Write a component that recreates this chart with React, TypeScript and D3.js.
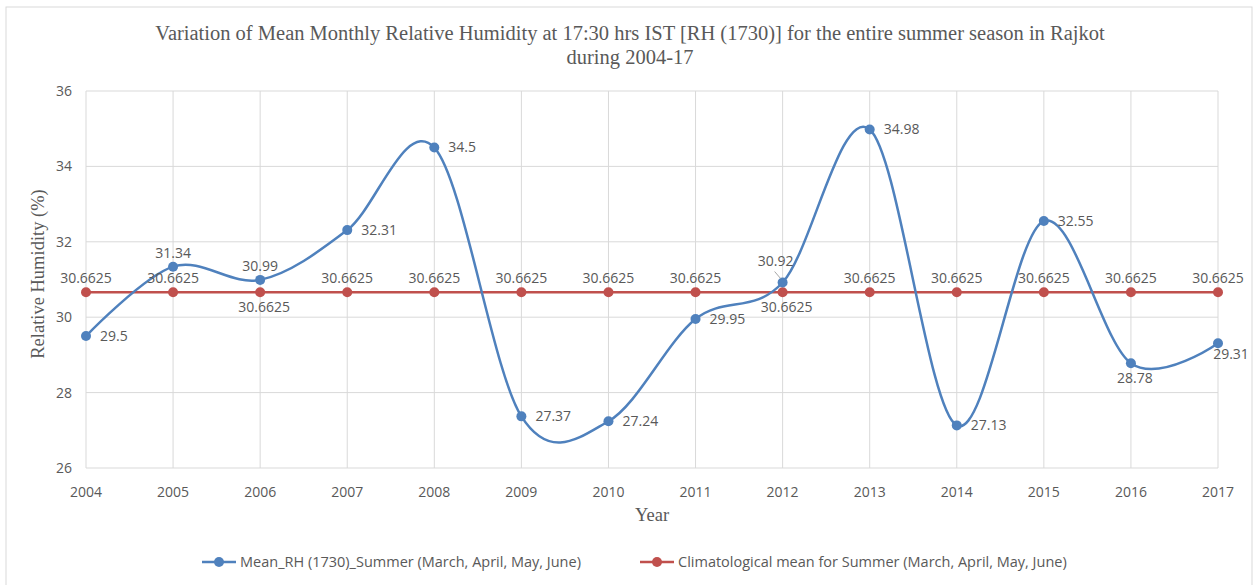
import React, {useEffect, useRef} from 'react';
import * as d3 from 'd3';

const years = [2004, 2005, 2006, 2007, 2008, 2009, 2010, 2011, 2012, 2013, 2014, 2015, 2016, 2017];
const meanRH = [29.5, 31.34, 30.99, 32.31, 34.5, 27.37, 27.24, 29.95, 30.92, 34.98, 27.13, 32.55, 28.78, 29.31];
const climMean = [30.6625, 30.6625, 30.6625, 30.6625, 30.6625, 30.6625, 30.6625, 30.6625, 30.6625, 30.6625, 30.6625, 30.6625, 30.6625, 30.6625];
const yTicks = [26, 28, 30, 32, 34, 36];
// label placement per point, as Excel put them
const meanLabelPos = ['r', 't', 't', 'r', 'r', 'r', 'r', 'r', 'tl', 'r', 'r', 'r', 'b', 'br'];
const climLabelPos = ['t', 't', 'b', 't', 't', 't', 't', 't', 'b', 't', 't', 't', 't', 't'];

const seriesNames = [
    'Mean_RH (1730)_Summer (March, April, May, June)',
    'Climatological mean for Summer (March, April, May, June)',
];
const titleLines = [
    'Variation of Mean Monthly Relative Humidity at 17:30 hrs IST [RH (1730)] for the entire summer season in Rajkot',
    'during 2004-17',
];

const W = 1258;
const H = 585;
const BLUE = '#4f81bd';
const RED = '#c0504d';
const GRID = '#d9d9d9';
const TXT = '#595959';
const SANS = '"Open Sans", "Noto Sans", sans-serif';
const SERIF = '"Liberation Serif", "Times New Roman", serif';
const FS = 14;

const App = () => {
    const svgRef = useRef<SVGSVGElement>(null);

    useEffect(() => {
        const svg = d3.select(svgRef.current);
        svg.selectAll('*').remove();

        const margin = {top: 91, right: 40, bottom: 117, left: 86};

        svg.append('rect')
            .attr('x', 6).attr('y', 7)
            .attr('width', 1246).attr('height', 600)
            .attr('fill', '#fff').attr('stroke', GRID);

        const x = d3.scaleLinear()
            .domain([2004, 2017])
            .range([margin.left, W - margin.right]);
        const y = d3.scaleLinear()
            .domain([26, 36])
            .range([H - margin.bottom, margin.top]);

        // Gridlines
        svg.append('g').selectAll('line').data(yTicks).join('line')
            .attr('x1', x(2004)).attr('x2', x(2017))
            .attr('y1', d => y(d)).attr('y2', d => y(d))
            .attr('stroke', GRID).attr('stroke-width', 1);
        svg.append('g').selectAll('line').data(years).join('line')
            .attr('x1', d => x(d)).attr('x2', d => x(d))
            .attr('y1', y(36)).attr('y2', y(26))
            .attr('stroke', GRID).attr('stroke-width', 1);

        // Tick labels
        svg.append('g').selectAll('text').data(yTicks).join('text')
            .attr('x', x(2004) - 14).attr('y', d => y(d))
            .attr('dy', '0.35em').attr('text-anchor', 'end')
            .attr('font-family', SANS).attr('font-size', FS).attr('fill', TXT)
            .text(d => d);
        svg.append('g').selectAll('text').data(years).join('text')
            .attr('x', d => x(d)).attr('y', y(26) + 29)
            .attr('text-anchor', 'middle')
            .attr('font-family', SANS).attr('font-size', FS).attr('fill', TXT)
            .text(d => d);

        // Titles
        svg.append('g').selectAll('text').data(titleLines).join('text')
            .attr('x', 630).attr('y', (d, i) => 40 + i * 24)
            .attr('text-anchor', 'middle')
            .attr('font-family', SERIF).attr('font-size', 20.5).attr('fill', TXT)
            .text(d => d);
        svg.append('text')
            .attr('x', 652).attr('y', 521).attr('text-anchor', 'middle')
            .attr('font-family', SERIF).attr('font-size', 18.5).attr('fill', TXT)
            .text('Year');
        svg.append('text')
            .attr('transform', `translate(44, 274) rotate(-90)`)
            .attr('text-anchor', 'middle')
            .attr('font-family', SERIF).attr('font-size', 18.5).attr('fill', TXT)
            .text('Relative Humidity (%)');

        // Red climatological line
        const straight = d3.line<number>()
            .x((d, i) => x(years[i])).y(d => y(d));
        svg.append('path').datum(climMean)
            .attr('d', straight).attr('fill', 'none')
            .attr('stroke', RED).attr('stroke-width', 2.5);
        svg.append('g').selectAll('circle').data(climMean).join('circle')
            .attr('cx', (d, i) => x(years[i])).attr('cy', d => y(d))
            .attr('r', 5).attr('fill', RED);

        // Blue smoothed line
        const smooth = d3.line<number>()
            .x((d, i) => x(years[i])).y(d => y(d))
            .curve(d3.curveCatmullRom.alpha(0));
        svg.append('path').datum(meanRH)
            .attr('d', smooth).attr('fill', 'none')
            .attr('stroke', BLUE).attr('stroke-width', 2.5);
        svg.append('g').selectAll('circle').data(meanRH).join('circle')
            .attr('cx', (d, i) => x(years[i])).attr('cy', d => y(d))
            .attr('r', 5).attr('fill', BLUE);

        // Data labels
        const place = (pos: string, px: number, py: number) => {
            switch (pos) {
                case 'r': return [px + 14, py, 'start'];
                case 't': return [px, py - 14, 'middle'];
                case 'b': return [px + 4, py + 15, 'middle'];
                case 'tl': return [px - 7, py - 21, 'middle'];
                case 'br': return [px + 13, py + 11, 'middle'];
                default: return [px, py, 'middle'];
            }
        };
        const labels = svg.append('g')
            .attr('font-family', SANS).attr('font-size', FS).attr('fill', TXT);
        const drawLabels = (vals: number[], pos: string[]) => {
            vals.forEach((v, i) => {
                const [lx, ly, anchor] = place(pos[i], x(years[i]), y(v));
                labels.append('text')
                    .attr('x', lx as number).attr('y', ly as number)
                    .attr('dy', '0.35em').attr('text-anchor', anchor as string)
                    .text(String(v));
            });
        };
        drawLabels(climMean, climLabelPos);
        drawLabels(meanRH, meanLabelPos);

        // leader line for the 2012 label
        const i12 = years.indexOf(2012);
        svg.append('line')
            .attr('x1', x(2012) - 8).attr('y1', y(meanRH[i12]) - 11)
            .attr('x2', x(2012) - 2).attr('y2', y(meanRH[i12]) - 4)
            .attr('stroke', '#a6a6a6').attr('stroke-width', 1);

        // Legend
        const legend = svg.append('g');
        const legendItems = [
            {name: seriesNames[0], color: BLUE, x0: 202},
            {name: seriesNames[1], color: RED, x0: 640},
        ];
        legendItems.forEach(it => {
            const ly = 562;
            legend.append('line')
                .attr('x1', it.x0).attr('x2', it.x0 + 34)
                .attr('y1', ly).attr('y2', ly)
                .attr('stroke', it.color).attr('stroke-width', 2.5);
            legend.append('circle')
                .attr('cx', it.x0 + 17).attr('cy', ly).attr('r', 5).attr('fill', it.color);
            legend.append('text')
                .attr('x', it.x0 + 38).attr('y', ly).attr('dy', '0.35em')
                .attr('font-family', SANS).attr('font-size', 14.5).attr('fill', TXT)
                .text(it.name);
        });
    }, []);

    return (
        <svg ref={svgRef} width={W} height={H}
             style={{position: 'absolute', left: 0, top: 0, background: '#fff'}}></svg>
    );
};

export default App;
